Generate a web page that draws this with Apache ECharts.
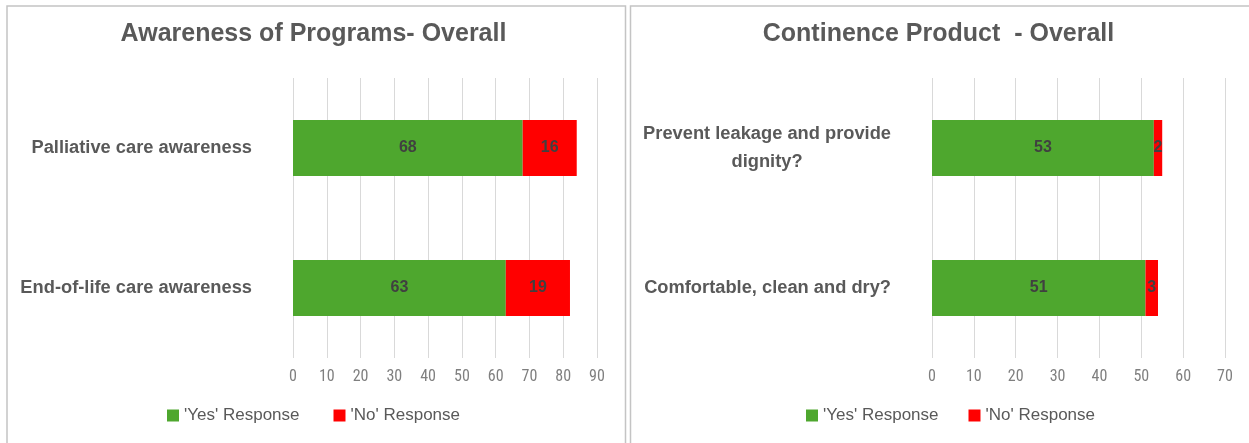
<!DOCTYPE html>
<html>
<head>
<meta charset="utf-8">
<script src="https://cdn.jsdelivr.net/npm/echarts@6/dist/echarts.min.js"></script>
<style>
html,body{margin:0;padding:0;background:#fff;}
#chart{width:1249px;height:443px;}
</style>
</head>
<body>
<div id="chart"></div>
<script>
// ---- data ----
const awarenessTitle = 'Awareness of Programs- Overall';
const awarenessCats = ['Palliative care awareness', 'End-of-life care awareness'];
const awarenessYes = [68, 63];
const awarenessNo = [16, 19];

const continenceTitle = 'Continence Product  - Overall';
const continenceCats = ['Prevent leakage and provide\ndignity?', 'Comfortable, clean and dry?'];
const continenceYes = [53, 51];
const continenceNo = [2, 3];

const seriesNames = ["'Yes' Response", "'No' Response"];
const awarenessMax = 90;
const continenceMax = 70;
const tickStep = 10;

// ---- style ----
const GREEN = '#4EA72E';
const RED = '#FF0000';
const BOLD_FONT = "'Liberation Sans', Arial, sans-serif";
const NARROW_FONT = "'Roboto Condensed', 'Liberation Sans', sans-serif";
const TEXT = '#595959';

const chart = echarts.init(document.getElementById('chart'), null, {renderer: 'canvas'});

function xAxis(gridIndex, max) {
  return {
    type: 'value', gridIndex: gridIndex, min: 0, max: max, interval: tickStep,
    axisLine: {show: false}, axisTick: {show: false},
    splitLine: {show: true, lineStyle: {color: '#d9d9d9', width: 1}},
    axisLabel: {color: '#7f7f7f', fontFamily: NARROW_FONT, fontSize: 16, margin: 11}
  };
}
function yAxis(gridIndex, cats, rich) {
  const label = {
    color: TEXT, fontFamily: BOLD_FONT, fontWeight: 'bold', fontSize: 18.3,
    margin: 41, align: 'right'
  };
  if (rich) {
    label.formatter = function (v) {
      return v.split('\n').map(function (l) { return '{c|' + l + '}'; }).join('\n');
    };
    label.rich = {c: {align: 'center', color: TEXT, fontFamily: BOLD_FONT, fontWeight: 'bold', fontSize: 18.3, lineHeight: 28}};
  }
  return {
    type: 'category', gridIndex: gridIndex, data: cats, inverse: true,
    axisLine: {show: false}, axisTick: {show: false}, splitLine: {show: false},
    axisLabel: label
  };
}
function barSeries(name, data, color, idx) {
  return {
    name: name, type: 'bar', stack: 's' + idx, xAxisIndex: idx, yAxisIndex: idx,
    data: data, barWidth: '40%', itemStyle: {color: color},
    label: {show: true, position: 'inside', color: '#404040', fontFamily: BOLD_FONT,
            fontWeight: 'bold', fontSize: 16},
    emphasis: {disabled: true}
  };
}
const legendText = {color: TEXT, fontFamily: BOLD_FONT, fontSize: 17};

chart.setOption({
  animation: false,
  backgroundColor: '#ffffff',
  graphic: [
    {type: 'rect', shape: {x: 7, y: 6, width: 618.5, height: 460}, style: {fill: 'none', stroke: '#c4c4c4', lineWidth: 1.5}, silent: true, z: -10},
    {type: 'rect', shape: {x: 630.5, y: 6, width: 640, height: 460}, style: {fill: 'none', stroke: '#c4c4c4', lineWidth: 1.5}, silent: true, z: -10}
  ],
  title: [
    {text: awarenessTitle, left: 313.5, top: 22, textAlign: 'center', padding: 0,
     textStyle: {color: TEXT, fontFamily: BOLD_FONT, fontWeight: 'bold', fontSize: 25}},
    {text: continenceTitle, left: 938.5, top: 22, textAlign: 'center', padding: 0,
     textStyle: {color: TEXT, fontFamily: BOLD_FONT, fontWeight: 'bold', fontSize: 25}}
  ],
  legend: [
    {data: seriesNames, left: 167, top: 407, padding: 0, itemWidth: 12, itemHeight: 12, itemGap: 34,
     icon: 'rect', textStyle: legendText, selectedMode: false},
    {data: seriesNames, left: 806, top: 407, padding: 0, itemWidth: 12, itemHeight: 12, itemGap: 30,
     icon: 'rect', textStyle: legendText, selectedMode: false}
  ],
  grid: [
    {left: 293, top: 78, width: 304, height: 280, containLabel: false},
    {left: 932, top: 78, width: 293, height: 280, containLabel: false}
  ],
  xAxis: [xAxis(0, awarenessMax), xAxis(1, continenceMax)],
  yAxis: [yAxis(0, awarenessCats, false), yAxis(1, continenceCats, true)],
  series: [
    barSeries(seriesNames[0], awarenessYes, GREEN, 0),
    barSeries(seriesNames[1], awarenessNo, RED, 0),
    barSeries(seriesNames[0], continenceYes, GREEN, 1),
    barSeries(seriesNames[1], continenceNo, RED, 1)
  ]
});
</script>
</body>
</html>
